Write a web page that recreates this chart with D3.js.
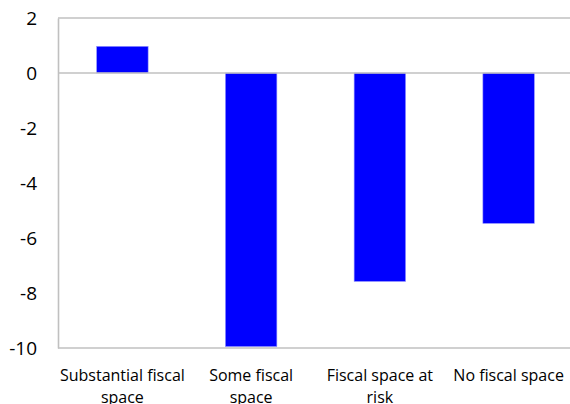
<!DOCTYPE html>
<html><head><meta charset="utf-8">
<script src="https://cdn.jsdelivr.net/npm/d3@7"></script>
<style>body{margin:0;background:#fff}svg{display:block}</style>
</head><body><svg id="c" width="570" height="404"></svg>
<script>
const categories = [["Substantial fiscal","space"],["Some fiscal","space"],["Fiscal space at","risk"],["No fiscal space"]];
const values = [0.97, -9.95, -7.58, -5.47];
const yTicks = [2, 0, -2, -4, -6, -8, -10];

const svg = d3.select("#c");
const m = {l:58, r:573, t:18, b:348};
const x = d3.scaleBand().domain(d3.range(categories.length)).range([m.l, m.r]).paddingInner(0.6).paddingOuter(0.3);
const y = d3.scaleLinear().domain([-10, 2]).range([m.b, m.t]);
const grey = "#c0c0c0";
const font = "Open Sans, Noto Sans, sans-serif";

// bars
svg.selectAll("rect.bar").data(values).join("rect").attr("class","bar")
  .attr("x",(d,i)=>x(i)).attr("width",x.bandwidth())
  .attr("y",d=>y(Math.max(0,d))).attr("height",d=>Math.abs(y(d)-y(0)))
  .attr("fill","#0000ff").attr("stroke","#9999ff").attr("stroke-width",0.6);

// frame lines
const lines = [[m.l,y(2),m.r,y(2)],[m.l,y(0),m.r,y(0)],[m.l,y(-10),m.r,y(-10)]];
svg.selectAll("line.h").data(lines).join("line").attr("class","h")
  .attr("x1",d=>d[0]).attr("y1",d=>d[1]).attr("x2",d=>d[2]).attr("y2",d=>d[3])
  .attr("stroke",grey).attr("stroke-width",1.6);

// y axis
const ya = d3.axisLeft(y).tickValues(yTicks).tickSize(0).tickPadding(21).tickFormat(d3.format("d"));
const gy = svg.append("g").attr("transform",`translate(${m.l},0)`).call(ya);
gy.select(".domain").attr("stroke",grey).attr("stroke-width",1.6);
gy.selectAll("text").attr("font-family",font).attr("font-size",19).attr("fill","#000");
gy.selectAll("text").text(d=>d<0?"-"+Math.abs(d):d);

// x labels
const gx = svg.append("g");
categories.forEach((lines,i)=>{
  const t = gx.append("text").attr("x",x(i)+x.bandwidth()/2).attr("y",y(-10)+33)
    .attr("text-anchor","middle").attr("font-family",font).attr("font-size",16).attr("fill","#000");
  lines.forEach((s,j)=>t.append("tspan").attr("x",x(i)+x.bandwidth()/2).attr("dy",j?22:0).text(s));
});
</script></body></html>
